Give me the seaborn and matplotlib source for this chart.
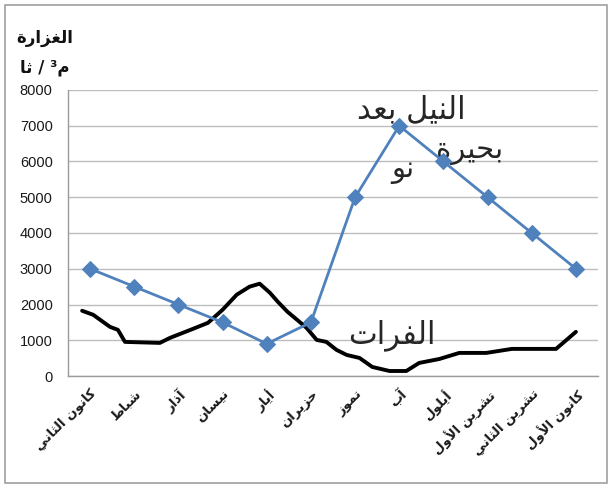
import matplotlib
matplotlib.use("Agg")
import matplotlib.pyplot as plt
import seaborn as sns
import pandas as pd
from matplotlib.patches import Rectangle

# ---------------- data ----------------
months = ["كانون الثاني", "شباط", "آذار", "نيسان", "أيار", "حزيران",
          "تموز", "آب", "أيلول", "تشرين الأول", "تشرين الثاني", "كانون الأول"]
nile_values = [3000, 2500, 2000, 1500, 900, 1500, 5000, 7000, 6000, 5000, 4000, 3000]

# hand-drawn Euphrates curve (x in month-index units, y in m3/s)
euph_x = [-0.18, 0.07, 0.45, 0.63, 0.79, 1.58, 1.81, 2.33, 2.67, 3.00, 3.32, 3.61,
          3.84, 4.07, 4.25, 4.47, 4.74, 4.90, 5.13, 5.35, 5.58, 5.81, 6.10, 6.39,
          6.78, 7.16, 7.45, 7.91, 8.36, 8.97, 9.55, 10.55, 11.00]
euph_y = [1825, 1712, 1375, 1291, 954, 926, 1067, 1319, 1488, 1853, 2274, 2498,
          2582, 2330, 2077, 1796, 1516, 1347, 1010, 954, 730, 589, 505, 253,
          140, 140, 365, 477, 646, 646, 758, 758, 1235]
y_ticks = [0, 1000, 2000, 3000, 4000, 5000, 6000, 7000, 8000]
y_title_1 = "الغزارة"
y_title_2 = "م³ / ثا"
nile_label_1 = "النيل بعد"
nile_label_2 = "بحيرة"
nile_label_3 = "نو"
euph_label = "الفرات"

# ------------- minimal Arabic shaping (visual order) -------------
DUAL = {'ئ': 0xFE89, 'ب': 0xFE8F, 'ت': 0xFE95, 'ث': 0xFE99, 'ج': 0xFE9D, 'ح': 0xFEA1,
        'خ': 0xFEA5, 'س': 0xFEB1, 'ش': 0xFEB5, 'ص': 0xFEB9, 'ض': 0xFEBD, 'ط': 0xFEC1,
        'ظ': 0xFEC5, 'ع': 0xFEC9, 'غ': 0xFECD, 'ف': 0xFED1, 'ق': 0xFED5, 'ك': 0xFED9,
        'ل': 0xFEDD, 'م': 0xFEE1, 'ن': 0xFEE5, 'ه': 0xFEE9, 'ي': 0xFEF1}
RIGHT = {'آ': 0xFE81, 'أ': 0xFE83, 'ؤ': 0xFE85, 'إ': 0xFE87, 'ا': 0xFE8D, 'ة': 0xFE93,
         'د': 0xFEA9, 'ذ': 0xFEAB, 'ر': 0xFEAD, 'ز': 0xFEAF, 'و': 0xFEED, 'ى': 0xFEEF}
LAMALEF = {'آ': 0xFEF5, 'أ': 0xFEF7, 'إ': 0xFEF9, 'ا': 0xFEFB}


def shape(text):
    tokens = []
    i = 0
    while i < len(text):
        c = text[i]
        if c == 'ل' and i + 1 < len(text) and text[i + 1] in LAMALEF:
            tokens.append(('LA', text[i + 1]))
            i += 2
        else:
            tokens.append(('C', c))
            i += 1

    def is_ar(t):
        return t[0] == 'LA' or t[1] in DUAL or t[1] in RIGHT

    def joins_next(t):
        return t[0] == 'C' and t[1] in DUAL

    out = []
    for k, t in enumerate(tokens):
        prev = tokens[k - 1] if k > 0 else None
        nxt = tokens[k + 1] if k + 1 < len(tokens) else None
        jp = prev is not None and joins_next(prev)
        if t[0] == 'LA':
            out.append(chr(LAMALEF[t[1]] + (1 if jp else 0)))
            continue
        c = t[1]
        if c in DUAL:
            jn = nxt is not None and is_ar(nxt)
            b = DUAL[c]
            if jp and jn:
                out.append(chr(b + 3))
            elif jp:
                out.append(chr(b + 1))
            elif jn:
                out.append(chr(b + 2))
            else:
                out.append(chr(b))
        elif c in RIGHT:
            out.append(chr(RIGHT[c] + (1 if jp else 0)))
        else:
            out.append(c)
    return ''.join(reversed(out))


# ---------------- plot ----------------
sns.set_style("white")
plt.rcParams['font.family'] = ['Liberation Sans', 'DejaVu Sans']
AR = ['DejaVu Sans']

fig = plt.figure(figsize=(6.13, 4.88), dpi=100)
ax = fig.add_axes([68 / 613, 1 - 376 / 488, 530 / 613, 286 / 488])

nile_df = pd.DataFrame({"m": list(range(len(months))), "v": nile_values})
euph_df = pd.DataFrame({"m": euph_x, "v": euph_y})

sns.lineplot(data=euph_df, x="m", y="v", sort=False, ax=ax, color="black",
             linewidth=2.8, zorder=3)
sns.lineplot(data=nile_df, x="m", y="v", ax=ax, color="#4F81BD", linewidth=2,
             marker="D", markersize=8, markeredgecolor="#4F81BD", zorder=4)

ax.set_xlim(-0.5, len(months) - 0.5)
ax.set_ylim(0, 8000)
ax.set_yticks(y_ticks)
ax.set_yticklabels([str(t) for t in y_ticks], fontsize=10.5, color="#1a1a1a")
ax.set_xticks(range(len(months)))
ax.set_xticklabels([shape(m) for m in months], rotation=45, ha="right",
                   rotation_mode="anchor", fontsize=9.5, family=AR,
                   fontweight="bold", color="#1a1a1a")
ax.set_xticks([i - 0.5 for i in range(len(months) + 1)], minor=True)
ax.tick_params(axis="x", which="major", length=0, pad=8)
ax.tick_params(axis="x", which="minor", length=5, color="#9a9a9a", width=1, direction="out")
ax.tick_params(axis="y", length=5, color="#9a9a9a", width=1, direction="out", pad=6)
ax.set_xlabel("")
ax.set_ylabel("")

ax.grid(axis="y", color="#bdbdbd", linewidth=1)
ax.set_axisbelow(True)
for s in ["top", "right"]:
    ax.spines[s].set_visible(False)
for s in ["left", "bottom"]:
    ax.spines[s].set_color("#9a9a9a")
    ax.spines[s].set_linewidth(1)

# axis title (top-left)
fig.text(45 / 613, 1 - 38 / 488, shape(y_title_1), family=AR, fontsize=12,
         fontweight="bold", ha="center", va="center", color="#111111")
fig.text(45 / 613, 1 - 67 / 488, shape(y_title_2), family=AR, fontsize=12,
         fontweight="bold", ha="center", va="center", color="#111111")

# hand-written annotations
ax.text(7.27, 7450, shape(nile_label_1), family=AR, fontsize=22, ha="center", va="center")
ax.text(8.6, 6300, shape(nile_label_2), family=AR, fontsize=21, ha="center", va="center")
ax.text(7.07, 5750, shape(nile_label_3), family=AR, fontsize=21, ha="center", va="center")
ax.text(6.84, 1150, shape(euph_label), family=AR, fontsize=22, ha="center", va="center")

# outer frame
fig.patches.append(Rectangle((5 / 613, 5 / 488), 602 / 613, 478 / 488, transform=fig.transFigure,
                             fill=False, edgecolor="#a0a0a0", linewidth=1.2))

fig.savefig("out.png", dpi=100)
